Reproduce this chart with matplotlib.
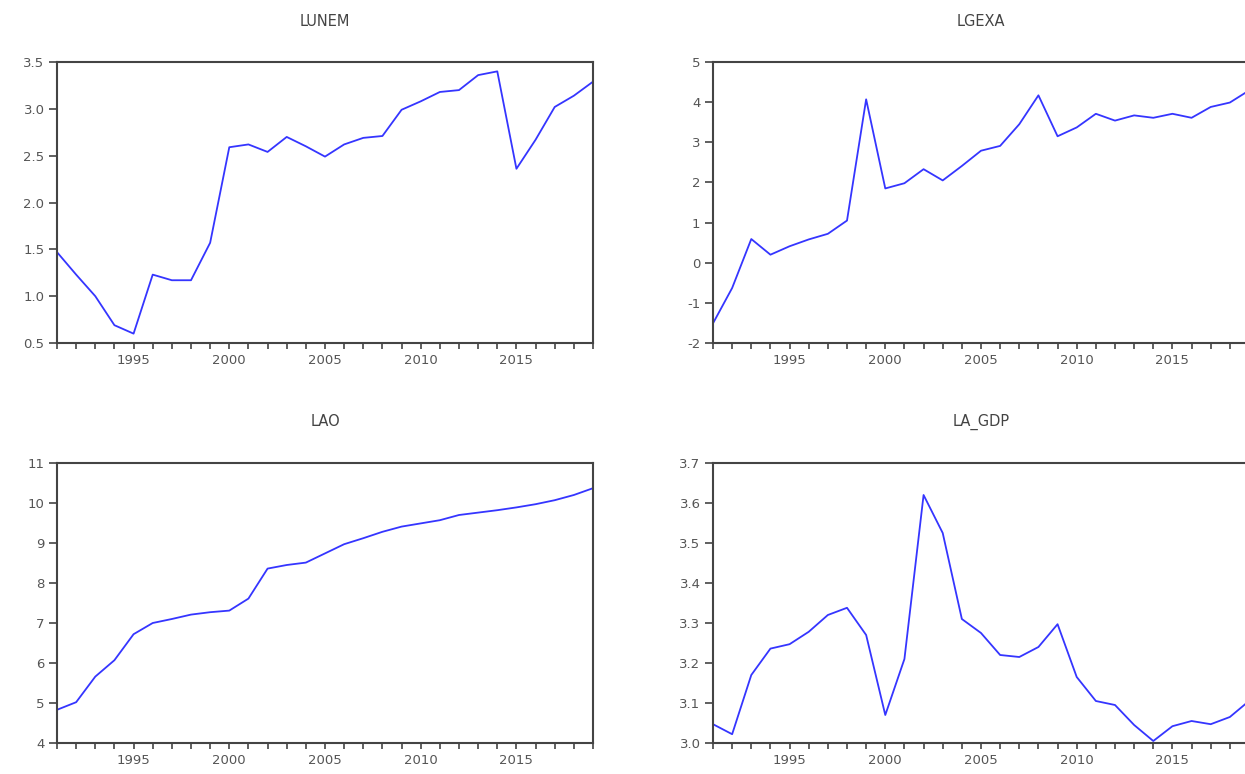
import numpy as np
import matplotlib
matplotlib.use('Agg')
import matplotlib.pyplot as plt
from matplotlib.ticker import MultipleLocator, FixedLocator

years = np.arange(1991, 2020)

lunem = [1.47, 1.23, 1.00, 0.69, 0.60, 1.23, 1.17, 1.17, 1.57, 2.59,
         2.62, 2.54, 2.70, 2.60, 2.49, 2.62, 2.69, 2.71, 2.99, 3.08,
         3.18, 3.20, 3.36, 3.40, 2.36, 2.67, 3.02, 3.14, 3.29]

lgexa = [-1.51, -0.63, 0.59, 0.20, 0.41, 0.58, 0.72, 1.05, 4.07, 1.85,
         1.98, 2.33, 2.05, 2.41, 2.79, 2.91, 3.45, 4.17, 3.15, 3.37,
         3.71, 3.54, 3.67, 3.61, 3.71, 3.61, 3.88, 3.99, 4.29]

lao = [4.83, 5.02, 5.66, 6.07, 6.72, 7.00, 7.10, 7.21, 7.27, 7.31,
       7.61, 8.36, 8.45, 8.51, 8.74, 8.97, 9.12, 9.28, 9.41, 9.49,
       9.57, 9.70, 9.76, 9.82, 9.89, 9.97, 10.07, 10.20, 10.37]

la_gdp = [3.047, 3.022, 3.170, 3.236, 3.247, 3.278, 3.320, 3.338, 3.270, 3.070,
          3.210, 3.620, 3.525, 3.310, 3.275, 3.220, 3.215, 3.240, 3.297, 3.165,
          3.105, 3.095, 3.045, 3.005, 3.042, 3.055, 3.047, 3.065, 3.105]

titles = ['LUNEM', 'LGEXA', 'LAO', 'LA_GDP']
series = [lunem, lgexa, lao, la_gdp]
ylims = [(0.5, 3.5), (-2, 5), (4, 11), (3.0, 3.7)]
ysteps = [0.5, 1, 1, 0.1]
yfmt = ['%.1f', '%d', '%d', '%.1f']

W, H = 1245, 774
fig = plt.figure(figsize=(W / 100, H / 100), dpi=100)

# pixel boxes of the four frames (left, top, right, bottom)
boxes = [(57, 62, 593, 343), (713, 62, 1249, 343),
         (57, 463, 593, 743), (713, 463, 1249, 743)]

txt_col = '#555555'
frame_col = '#444444'

for i in range(4):
    l, t, r, b = boxes[i]
    ax = fig.add_axes([l / W, 1 - b / H, (r - l) / W, (b - t) / H])
    ax.plot(years, series[i], color='#3535FF', lw=1.3)
    ax.set_xlim(1991, 2019)
    ax.set_ylim(*ylims[i])
    ax.xaxis.set_major_locator(FixedLocator(years))
    ax.set_xticklabels([str(y) if y % 5 == 0 else '' for y in years])
    ax.yaxis.set_major_locator(MultipleLocator(ysteps[i]))
    ax.yaxis.set_major_formatter(plt.FormatStrFormatter(yfmt[i]))
    ax.tick_params(axis='x', direction='out', length=4, width=1.2,
                   color=frame_col, labelsize=9.5, labelcolor=txt_col, pad=4)
    ax.tick_params(axis='y', direction='out', length=6, width=1.2,
                   color=frame_col, labelsize=9.5, labelcolor=txt_col, pad=3)
    for s in ax.spines.values():
        s.set_color(frame_col)
        s.set_linewidth(1.5)
    ax.text(0.5, 1 + 41 / (b - t), titles[i], transform=ax.transAxes,
            ha='center', va='center', fontsize=10.5, color='#444444')

plt.savefig('out.png', dpi=100)
